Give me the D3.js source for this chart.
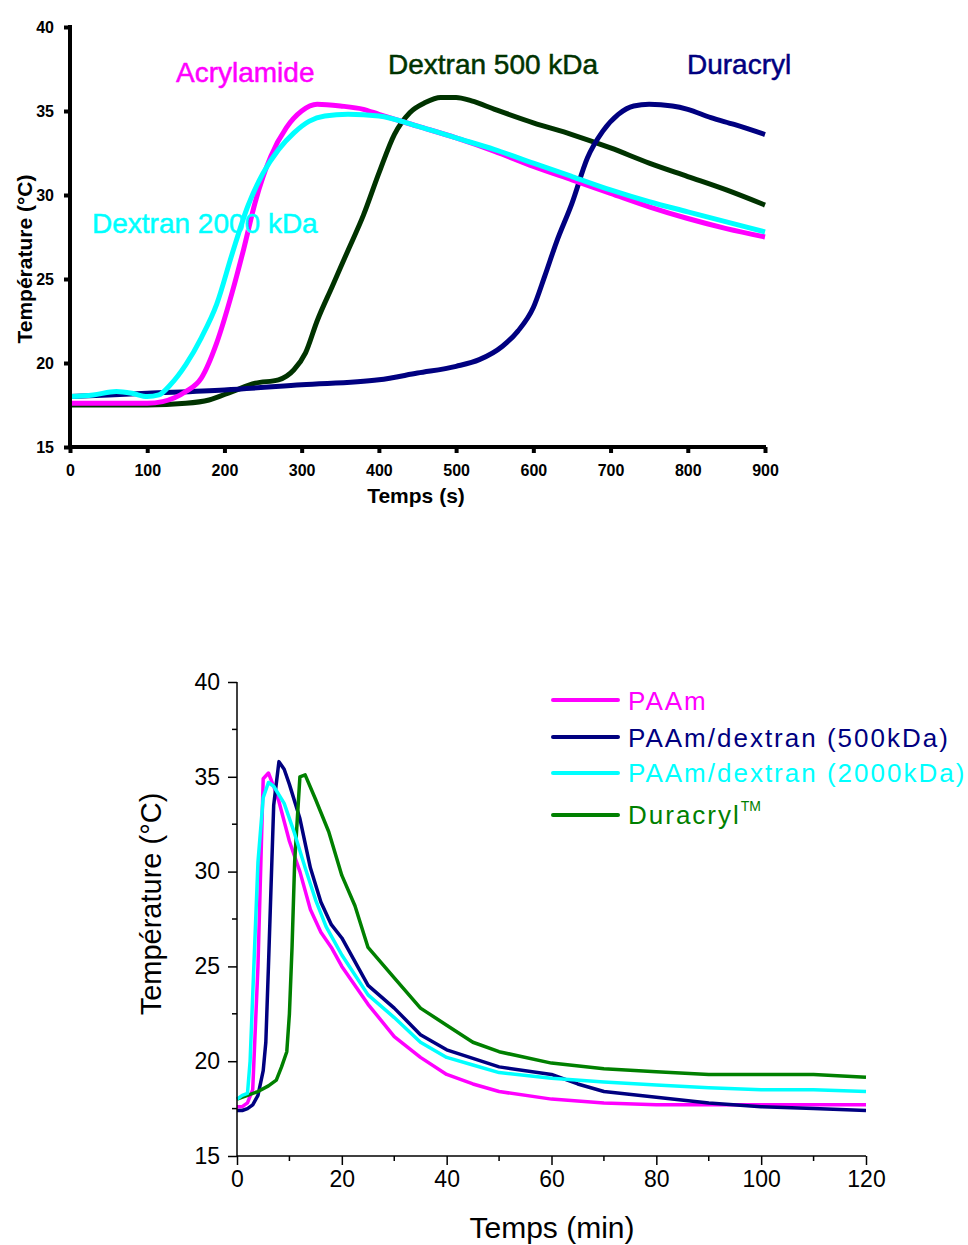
<!DOCTYPE html>
<html><head><meta charset="utf-8">
<script src="https://cdn.jsdelivr.net/npm/d3@7"></script>
<style>body{margin:0;background:#fff}svg{display:block}text{font-family:Arial,"Liberation Sans",sans-serif}</style>
</head><body>
<svg id="c" width="968" height="1245"></svg>
<script>
// ---------- Top chart data (time in s, temperature in °C) ----------
const topAcrylamide = [[0,17.6],[50,17.6],[100,17.6],[120,17.7],[150,18.3],[170,19.1],[190,21.2],[210,24.2],[225,26.8],[240,29.6],[260,32.3],[280,34.0],[300,35.0],[320,35.4],[350,35.3],[380,35.1],[400,34.8],[450,34.1],[500,33.4],[550,32.6],[600,31.7],[650,30.9],[700,30.1],[750,29.3],[800,28.6],[850,28.0],[900,27.5]];
const topDextran2000 = [[0,18.0],[30,18.1],[60,18.3],[80,18.2],[100,18.0],[115,18.1],[130,18.7],[150,19.9],[170,21.5],[190,23.5],[210,26.5],[230,29.3],[250,31.3],[270,32.7],[290,33.7],[310,34.4],[330,34.7],[360,34.8],[400,34.7],[450,34.1],[500,33.4],[550,32.7],[600,31.9],[650,31.1],[700,30.3],[750,29.6],[800,29.0],[850,28.4],[900,27.8]];
const topDextran500 = [[0,17.5],[50,17.5],[100,17.5],[150,17.6],[180,17.8],[210,18.3],[240,18.8],[270,19.0],[290,19.6],[305,20.6],[320,22.5],[340,24.6],[360,26.7],[380,28.8],[400,31.3],[420,33.6],[440,34.9],[460,35.5],[480,35.8],[500,35.8],[520,35.6],[550,35.1],[600,34.3],[650,33.6],[700,32.8],[750,31.9],[800,31.1],[850,30.3],[900,29.4]];
const topDuracryl = [[0,18.0],[100,18.2],[200,18.4],[300,18.7],[400,19.0],[450,19.4],[500,19.8],[530,20.2],[560,21.0],[580,21.9],[600,23.3],[615,25.2],[630,27.2],[650,29.5],[670,32.2],[690,33.8],[710,34.8],[730,35.3],[750,35.4],[780,35.3],[800,35.1],[830,34.6],[860,34.2],[900,33.6]];
const topXTicks = [0,100,200,300,400,500,600,700,800,900];
const topYTicks = [15,20,25,30,35,40];
const topLabels = ["Acrylamide","Dextran 500 kDa","Duracryl","Dextran 2000 kDa"];

// ---------- Bottom chart data (time in min, temperature in °C) ----------
const botPAAm = [[0,17.6],[1,17.6],[2,17.8],[3,18.5],[4,25],[5,34.9],[6,35.2],[7,34.5],[8,33.7],[10,31.6],[12,30.0],[14,28.0],[16,26.8],[18,26.0],[20,25.0],[25,23.0],[30,21.3],[35,20.2],[40,19.3],[45,18.8],[50,18.4],[60,18.0],[70,17.8],[80,17.7],[90,17.7],[100,17.7],[120,17.7]];
const botDex500 = [[0,17.4],[1,17.4],[2,17.5],[3,17.7],[4,18.2],[5,19.5],[5.5,21],[6,25],[7,33.5],[8,35.8],[9,35.4],[10,34.6],[12,32.8],[14,30.2],[16,28.4],[18,27.2],[20,26.5],[22,25.5],[25,24.0],[30,22.8],[35,21.4],[40,20.6],[50,19.7],[60,19.3],[65,18.8],[70,18.4],[80,18.1],[90,17.8],[100,17.6],[110,17.5],[120,17.4]];
const botDex2000 = [[0,18.0],[1,18.2],[2,18.3],[2.5,20],[3,23.5],[4,30.5],[5,33.9],[6,34.7],[7,34.5],[9,33.6],[11,32],[13,30.2],[15,28.5],[17,27.1],[20,25.6],[25,23.5],[30,22.3],[35,21.0],[40,20.2],[45,19.8],[50,19.4],[60,19.1],[70,18.9],[80,18.75],[90,18.6],[100,18.5],[110,18.5],[120,18.4]];
const botDuracryl = [[0,18.0],[2,18.2],[4,18.4],[6,18.7],[7.5,19.0],[8.5,19.7],[9.5,20.5],[10,22.5],[10.5,26],[11,30.5],[12,35.0],[13,35.1],[15,33.8],[17.5,32.1],[20,29.8],[22.5,28.2],[25,26.0],[30,24.4],[35,22.8],[40,21.9],[45,21.0],[50,20.5],[60,19.9],[70,19.6],[80,19.45],[90,19.3],[100,19.3],[110,19.3],[120,19.15]];
const botXTicks = [0,20,40,60,80,100,120];
const botYTicks = [15,20,25,30,35,40];
const botLegend = ["PAAm","PAAm/dextran (500kDa)","PAAm/dextran (2000kDa)","Duracryl"];

const svg = d3.select("#c");

// ================= TOP CHART =================
{
  const x = d3.scaleLinear().domain([0,900]).range([70,765]);
  const y = d3.scaleLinear().domain([15,40]).range([447,27]);
  const g = svg.append("g");
  const line = d3.line().x(d=>x(d[0])).y(d=>y(d[1])).curve(d3.curveMonotoneX);
  const series = [
    {d:topDextran500, c:"#003300"},
    {d:topDuracryl, c:"#000080"},
    {d:topAcrylamide, c:"#ff00ff"},
    {d:topDextran2000, c:"#00ffff"}
  ];
  series.forEach(s=>g.append("path").attr("d",line(s.d)).attr("fill","none")
    .attr("stroke",s.c).attr("stroke-width",5).attr("stroke-linejoin","round"));

  const xa = g.append("g").attr("transform","translate(0,447)")
    .call(d3.axisBottom(x).tickValues(topXTicks).tickSize(6).tickPadding(12));
  const ya = g.append("g").attr("transform","translate(70,0)")
    .call(d3.axisLeft(y).tickValues(topYTicks).tickSize(6).tickPadding(10));
  [xa,ya].forEach(a=>{
    a.select(".domain").attr("stroke","#000").attr("stroke-width",4);
    a.selectAll(".tick line").attr("stroke","#000").attr("stroke-width",4);
    a.selectAll(".tick text").attr("font-size",16).attr("font-weight","bold").attr("fill","#000")
      .attr("font-family","Arial, Liberation Sans, sans-serif");
  });
  ya.select(".domain").attr("d","M0,25V449");
  xa.select(".domain").attr("d","M68,0H766");

  g.append("text").attr("x",416).attr("y",503).attr("text-anchor","middle")
    .attr("font-size",21).attr("font-weight","bold").text("Temps (s)");
  g.append("text").attr("transform","translate(32,259) rotate(-90)").attr("text-anchor","middle")
    .attr("font-size",21).attr("font-weight","bold").text("Température (°C)");

  const ann = [
    {t:topLabels[0], x:176, y:82, c:"#ff00ff"},
    {t:topLabels[1], x:388, y:74, c:"#003300"},
    {t:topLabels[2], x:687, y:74, c:"#000080"},
    {t:topLabels[3], x:92, y:233, c:"#00ffff"}
  ];
  ann.forEach(a=>g.append("text").attr("x",a.x).attr("y",a.y).attr("fill",a.c)
    .attr("stroke",a.c).attr("stroke-width",0.5)
    .attr("font-size",28).text(a.t));
}

// ================= BOTTOM CHART =================
{
  const x = d3.scaleLinear().domain([0,120]).range([237,866]);
  const y = d3.scaleLinear().domain([15,40]).range([1156,682]);
  const g = svg.append("g");
  const line = d3.line().x(d=>x(d[0])).y(d=>y(d[1]));
  const series = [
    {d:botPAAm, c:"#ff00ff"},
    {d:botDex500, c:"#000080"},
    {d:botDuracryl, c:"#008000"},
    {d:botDex2000, c:"#00ffff"}
  ];
  series.forEach(s=>g.append("path").attr("d",line(s.d)).attr("fill","none")
    .attr("stroke",s.c).attr("stroke-width",3.5).attr("stroke-linejoin","round"));

  // minor ticks
  const xMinor = d3.range(10,120,20);
  const yMinor = d3.range(17.5,40,5);
  g.append("g").selectAll("line").data(xMinor).join("line")
    .attr("x1",d=>x(d)).attr("x2",d=>x(d)).attr("y1",1156).attr("y2",1161)
    .attr("stroke","#000").attr("stroke-width",1.5);
  g.append("g").selectAll("line").data(yMinor).join("line")
    .attr("y1",d=>y(d)).attr("y2",d=>y(d)).attr("x1",237).attr("x2",232)
    .attr("stroke","#000").attr("stroke-width",1.5);

  const xa = g.append("g").attr("transform","translate(0,1156)")
    .call(d3.axisBottom(x).tickValues(botXTicks).tickSize(9).tickPadding(6));
  const ya = g.append("g").attr("transform","translate(237,0)")
    .call(d3.axisLeft(y).tickValues(botYTicks).tickSize(9).tickPadding(8));
  [xa,ya].forEach(a=>{
    a.select(".domain").attr("stroke","#000").attr("stroke-width",1.5);
    a.selectAll(".tick line").attr("stroke","#000").attr("stroke-width",1.5);
    a.selectAll(".tick text").attr("font-size",23).attr("fill","#000")
      .attr("font-family","Arial, Liberation Sans, sans-serif");
  });
  ya.select(".domain").attr("d","M0,682V1156");
  xa.select(".domain").attr("d","M237,0H866");

  g.append("text").attr("x",552).attr("y",1238).attr("text-anchor","middle")
    .attr("font-size",30).text("Temps (min)");
  g.append("text").attr("transform","translate(161,904) rotate(-90)").attr("text-anchor","middle")
    .attr("font-size",29).text("Température (°C)");

  // legend
  const leg = [
    {t:botLegend[0], c:"#ff00ff", ly:700, ty:710},
    {t:botLegend[1], c:"#000080", ly:737, ty:747},
    {t:botLegend[2], c:"#00ffff", ly:773, ty:782},
    {t:botLegend[3], c:"#008000", ly:815, ty:824}
  ];
  leg.forEach((l,i)=>{
    g.append("line").attr("x1",553).attr("x2",618).attr("y1",l.ly).attr("y2",l.ly)
      .attr("stroke",l.c).attr("stroke-width",4).attr("stroke-linecap","round");
    const t = g.append("text").attr("x",628).attr("y",l.ty).attr("fill",l.c)
      .attr("font-size",26).style("letter-spacing","2px").text(l.t);
    if(i===3){
      t.append("tspan").attr("font-size",14).style("letter-spacing","0px").attr("dy",-13).attr("dx",0).text("TM");
    }
  });
}
</script>
</body></html>
